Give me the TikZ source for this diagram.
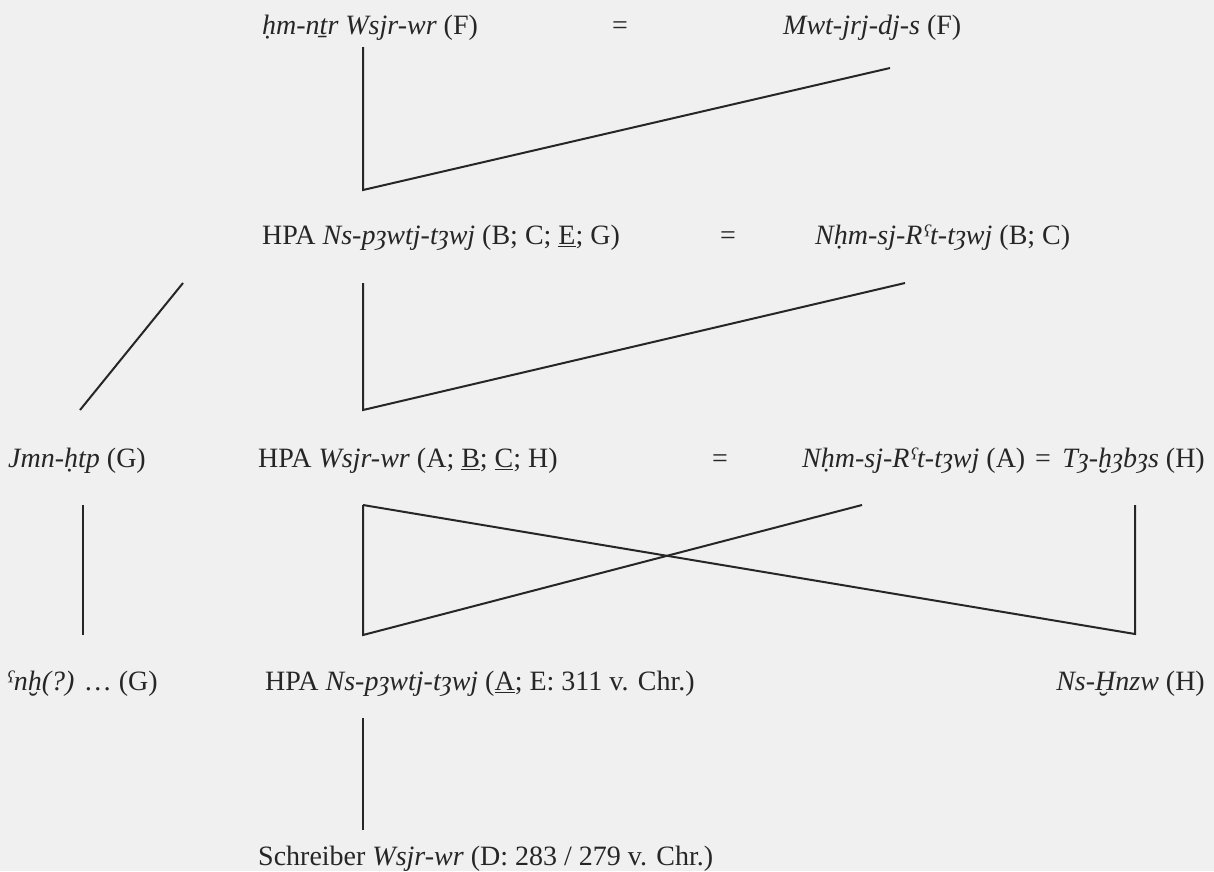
\documentclass[tikz,border=0pt]{standalone}
\usepackage{fontspec}
\setmainfont{Liberation Serif}
\definecolor{ink}{HTML}{262626}
\definecolor{paper}{HTML}{F0F0F0}
\newcommand{\ain}{ˁ}
\begin{document}
\begin{tikzpicture}[x=1pt,y=-1pt,
  txt/.style={font=\fontsize{28}{33}\selectfont, text=ink, inner sep=0pt, anchor=mid west},
  txtr/.style={txt, anchor=mid east},
  eqs/.style={font=\fontsize{28}{33}\selectfont, text=ink, inner sep=0pt, anchor=mid},
  conn/.style={draw=ink, line width=2pt}]
\fill[paper] (0,0) rectangle (1214,871);
\useasboundingbox (0,0) rectangle (1214,871);
% row 1
\node[txt] (f1) at (262,32) {\textit{ḥm-nṯr Wsjr-wr} (F)};
\node[eqs] (e1) at (620,32) {=};
\node[txt] (m1) at (783,32) {\textit{Mwt-jrj-dj-s} (F)};
% row 2
\node[txt] (f2) at (262,242) {HPA \textit{Ns-pȝwtj-tȝwj} (B; C; \underline{E}; G)};
\node[eqs] (e2) at (728,242) {=};
\node[txt] (m2) at (815,242) {\textit{Nḥm-sj-R\ain t-tȝwj} (B; C)};
% row 3
\node[txt] (c3l) at (8,465) {\textit{Jmn-ḥtp} (G)};
\node[txt] (f3) at (258,465) {HPA \textit{Wsjr-wr} (A; \underline{B}; \underline{C}; H)};
\node[eqs] (e3) at (720,465) {=};
\node[txt] (m3) at (802,465) {\textit{Nḥm-sj-R\ain t-tȝwj} (A)};
\node[eqs] (e3b) at (1043,465) {=};
\node[txtr] (w3) at (1205,465) {\textit{Tȝ-ḫȝbȝs} (H)};
% row 4
\node[txt] (c4l) at (6,688) {\textit{\ain nḫ(?)} … (G)};
\node[txt] (f4) at (265,688) {HPA \textit{Ns-pȝwtj-tȝwj} (\underline{A}; E: 311 v. Chr.)};
\node[txtr] (c4r) at (1205,688) {\textit{Ns-Ḫnzw} (H)};
% row 5
\node[txt] (c5) at (258,863) {Schreiber \textit{Wsjr-wr} (D: 283 / 279 v. Chr.)};
% connector points
\coordinate (a1) at (363,47);   \coordinate (j1) at (363,190);  \coordinate (b1) at (890,68);
\coordinate (a2) at (363,283);  \coordinate (j2) at (363,410);  \coordinate (b2) at (905,283);
\coordinate (l2t) at (183,283); \coordinate (l2b) at (80,410);
\coordinate (a3) at (363,505);  \coordinate (j3) at (363,635);  \coordinate (b3) at (862,505);
\coordinate (r3t) at (1135,505); \coordinate (r3b) at (1135,634);
\coordinate (l3t) at (83,505);  \coordinate (l3b) at (83,635);
\coordinate (a4) at (363,718);  \coordinate (j4) at (363,830);
\draw[conn] (a1) -- (j1) -- (b1);
\draw[conn] (a2) -- (j2) -- (b2);
\draw[conn] (l2b) -- (l2t);
\draw[conn] (l3t) -- (l3b);
\draw[conn] (a3) -- (j3) -- (b3);
\draw[conn] (a3) -- (r3b) -- (r3t);
\draw[conn] (a4) -- (j4);
\end{tikzpicture}
\end{document}
